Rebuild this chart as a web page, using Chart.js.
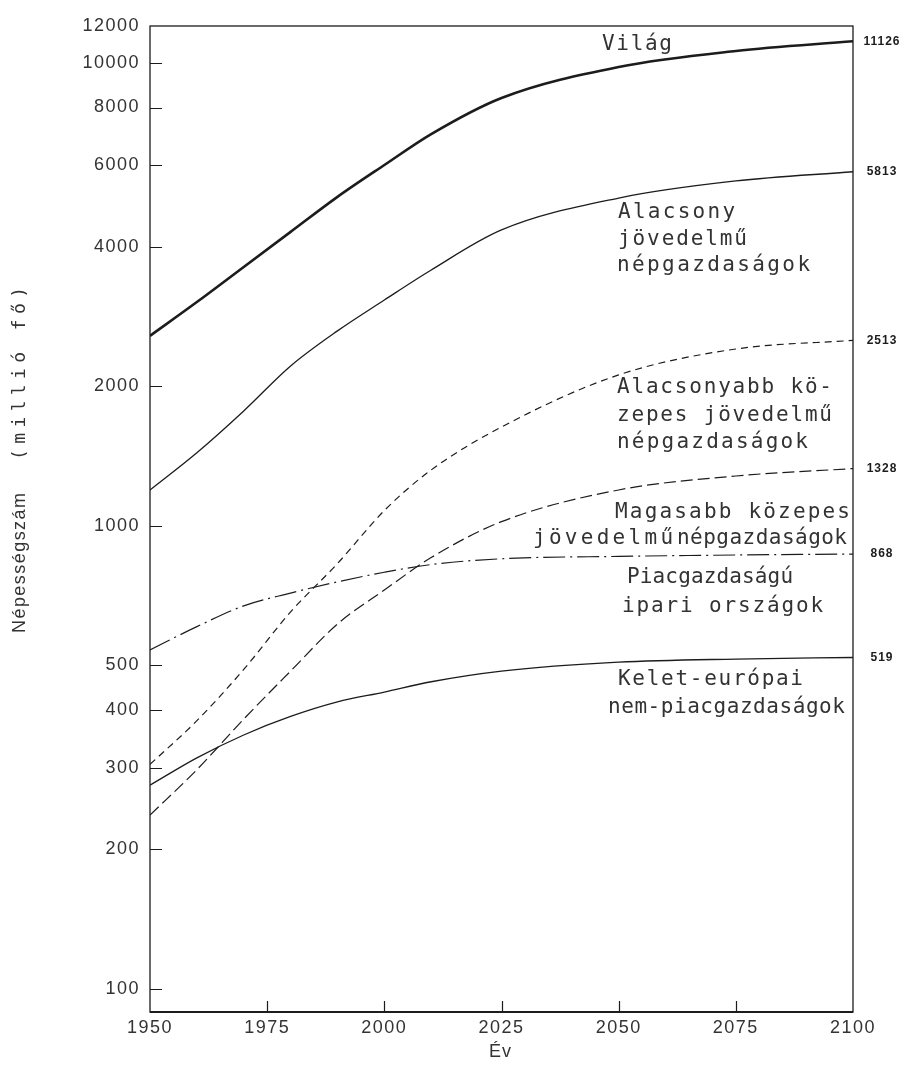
<!DOCTYPE html>
<html>
<head>
<meta charset="utf-8">
<script src="https://cdn.jsdelivr.net/npm/chart.js@4"></script>
<style>
  html, body { margin: 0; padding: 0; background: #fff; }
  canvas { display: block; }
</style>
</head>
<body>
<canvas id="c" width="912" height="1071"></canvas>
<script>
// Népességszám (millió fő), 1950-2100
const years = [1950, 1960, 1970, 1980, 1990, 2000, 2010, 2025, 2050, 2075, 2100];
const vilag        = [2570, 3040, 3620, 4310, 5130, 6010, 7010, 8390, 9790, 10600, 11126];
const alacsony     = [1194, 1437, 1769, 2212, 2634, 3071, 3566, 4352, 5100, 5552, 5813];
const alsoKozepes  = [305, 379, 489, 651, 828, 1078, 1319, 1633, 2116, 2407, 2513];
const felsoKozepes = [237, 297, 382, 485, 613, 726, 853, 1020, 1194, 1280, 1328];
const piaci        = [539, 605, 671, 715, 756, 793, 824, 848, 858, 864, 868];
const keleti       = [275, 315, 353, 387, 416, 437, 460, 485, 507, 515, 519];

const xTicks = [1950, 1975, 2000, 2025, 2050, 2075, 2100];
const yTicks = [100, 200, 300, 400, 500, 1000, 2000, 4000, 6000, 8000, 10000, 12000];

const seriesNames = [
  ['Világ'],
  ['Alacsony', 'jövedelmű', 'népgazdaságok'],
  ['Alacsonyabb kö-', 'zepes jövedelmű', 'népgazdaságok'],
  ['Magasabb közepes', 'jövedelmű', 'népgazdaságok'],
  ['Piacgazdaságú', 'ipari országok'],
  ['Kelet-európai', 'nem-piacgazdaságok']
];

const toPoints = vals => years.map((y, i) => ({ x: y, y: vals[i] }));

const INK = '#1c1c1c';
const TEXT = '#333';

// Text runs beside the curves: start x, baseline y, run width
const noteLayout = [
  [[602, 50, 70]],
  [[618, 218, 117], [618, 245, 129], [617, 271, 193]],
  [[617, 393, 215], [617, 421, 215], [617, 448, 191]],
  [[615, 518, 235], [533, 544, 140], [677, 544, 170]],
  [[627, 583, 166], [622, 612, 201]],
  [[618, 685, 185], [608, 713, 237]]
];

function spacedText(ctx, text, x, y, width, knockout) {
  ctx.letterSpacing = '0px';
  const w = ctx.measureText(text).width;
  const n = [...text].length;
  const sp = n > 1 ? Math.max(0, (width - w) / (n - 1)) : 0;
  ctx.letterSpacing = sp.toFixed(2) + 'px';
  if (knockout) {
    ctx.strokeStyle = '#fff';
    ctx.lineWidth = 5;
    ctx.lineJoin = 'round';
    ctx.strokeText(text, x, y);
  }
  ctx.fillText(text, x, y);
  ctx.letterSpacing = '0px';
}

const decorPlugin = {
  id: 'decor',
  beforeDraw(chart) {
    chart.ctx.letterSpacing = '1.5px';
  },
  afterDatasetsDraw(chart) {
    const ctx = chart.ctx;
    ctx.save();
    ctx.letterSpacing = '0px';
    ctx.fillStyle = TEXT;
    ctx.textAlign = 'left';
    ctx.textBaseline = 'alphabetic';
    ctx.font = '21px "DejaVu Sans Mono"';
    seriesNames.forEach((lines, si) => {
      lines.forEach((line, li) => {
        const lay = noteLayout[si][li];
        spacedText(ctx, line, lay[0], lay[1], lay[2], true);
      });
    });
    ctx.restore();
  },
  afterDraw(chart) {
    const ctx = chart.ctx;
    const a = chart.chartArea;
    const xs = chart.scales.x, ys = chart.scales.y;
    ctx.save();
    ctx.letterSpacing = '0px';

    // frame
    ctx.strokeStyle = INK;
    ctx.lineWidth = 1.3;
    ctx.strokeRect(a.left, a.top, a.right - a.left, a.bottom - a.top);
    ctx.lineWidth = 1.8;
    ctx.beginPath();
    ctx.moveTo(a.left, a.bottom);
    ctx.lineTo(a.right, a.bottom);
    ctx.stroke();

    // inward tick marks
    ctx.lineWidth = 1.2;
    ctx.beginPath();
    yTicks.forEach(v => {
      if (v <= ys.min || v >= ys.max) return;
      const py = Math.round(ys.getPixelForValue(v)) + 0.5;
      ctx.moveTo(a.left, py);
      ctx.lineTo(a.left + 12, py);
    });
    xTicks.forEach(v => {
      if (v <= xs.min || v >= xs.max) return;
      const px = Math.round(xs.getPixelForValue(v)) + 0.5;
      ctx.moveTo(px, a.bottom);
      ctx.lineTo(px, a.bottom - 11);
    });
    ctx.stroke();

    // end-of-period values on the right
    ctx.fillStyle = INK;
    ctx.font = 'bold 12px "Liberation Sans"';
    ctx.textAlign = 'center';
    ctx.textBaseline = 'middle';
    ctx.letterSpacing = '1px';
    chart.data.datasets.forEach(ds => {
      const last = ds.data[ds.data.length - 1];
      const py = ys.getPixelForValue(last.y);
      ctx.fillText(String(last.y), 882, py);
    });
    ctx.letterSpacing = '0px';

    // axis titles
    ctx.fillStyle = TEXT;
    ctx.save();
    ctx.translate(20, 0);
    ctx.rotate(-Math.PI / 2);
    ctx.textAlign = 'left';
    ctx.textBaseline = 'middle';
    ctx.font = '18px "Liberation Sans"';
    spacedText(ctx, 'Népességszám', -633, 0, 140, false);
    ctx.font = '18px "DejaVu Sans Mono"';
    spacedText(ctx, '(millió fő)', -460, 0, 173, false);
    ctx.restore();

    ctx.font = '18px "Liberation Sans"';
    ctx.textAlign = 'left';
    ctx.textBaseline = 'alphabetic';
    spacedText(ctx, 'Év', 489, 1057, 22, false);
    ctx.restore();
  }
};

const lineStyle = (data, width, dash) => ({
  data: toPoints(data),
  borderColor: INK,
  borderWidth: width,
  borderDash: dash,
  pointRadius: 0,
  fill: false,
  cubicInterpolationMode: 'monotone'
});

new Chart(document.getElementById('c'), {
  type: 'line',
  data: {
    datasets: [
      { label: 'Világ', ...lineStyle(vilag, 2.6, []) },
      { label: 'Alacsony jövedelmű népgazdaságok', ...lineStyle(alacsony, 1.3, []) },
      { label: 'Alacsonyabb közepes jövedelmű népgazdaságok', ...lineStyle(alsoKozepes, 1.2, [7, 5]) },
      { label: 'Magasabb közepes jövedelmű népgazdaságok', ...lineStyle(felsoKozepes, 1.2, [12, 5]) },
      { label: 'Piacgazdaságú ipari országok', ...lineStyle(piaci, 1.2, [22, 5, 2, 5]) },
      { label: 'Kelet-európai nem-piacgazdaságok', ...lineStyle(keleti, 1.3, []) }
    ]
  },
  options: {
    responsive: false,
    devicePixelRatio: 1,
    animation: false,
    layout: { padding: { left: 0, right: 59, top: 26, bottom: 0 } },
    plugins: { legend: { display: false }, tooltip: { enabled: false } },
    scales: {
      x: {
        type: 'linear',
        min: 1950,
        max: 2100,
        afterBuildTicks: s => { s.ticks = xTicks.map(v => ({ value: v })); },
        afterFit: s => { s.height = 59; },
        grid: { display: false, drawTicks: false },
        border: { display: false },
        ticks: {
          autoSkip: false,
          maxRotation: 0,
          padding: 5,
          color: TEXT,
          font: { family: 'Liberation Sans', size: 18 },
          callback: v => String(v)
        }
      },
      y: {
        type: 'logarithmic',
        min: 89,
        max: 12000,
        afterBuildTicks: s => { s.ticks = yTicks.map(v => ({ value: v })); },
        afterFit: s => { s.width = 150; },
        grid: { display: false, drawTicks: false },
        border: { display: false },
        ticks: {
          autoSkip: false,
          padding: 10,
          color: TEXT,
          font: { family: 'Liberation Sans', size: 18 },
          callback: v => String(v)
        }
      }
    }
  },
  plugins: [decorPlugin]
});
</script>
</body>
</html>
